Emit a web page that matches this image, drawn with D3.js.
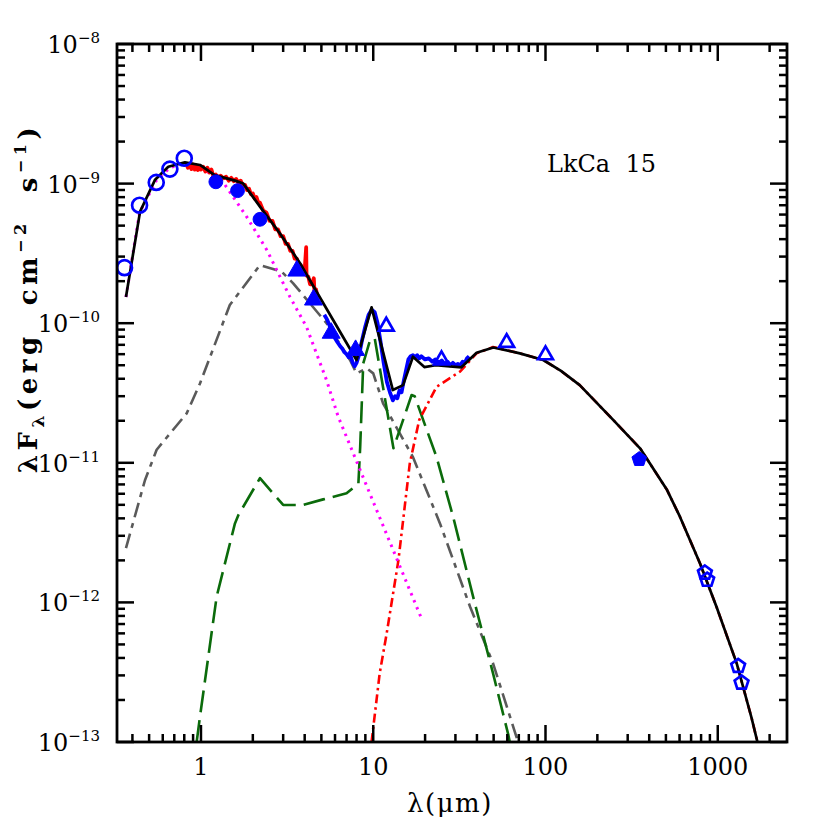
<!DOCTYPE html>
<html><head><meta charset="utf-8">
<script src="https://cdn.jsdelivr.net/npm/d3@7"></script>
<style>body{margin:0;background:#fff} svg{display:block} text{font-family:"DejaVu Serif",serif;fill:#000}</style>
</head><body><svg id="c" width="830" height="830"></svg>
<script>
// ---------- data (wavelength in micron, lambda*F_lambda in erg cm^-2 s^-1) ----------
const photOpen = [[0.36,2.5e-10],[0.44,7.0e-10],[0.55,1.02e-9],[0.66,1.27e-9],[0.80,1.52e-9]];
const photFilled = [[1.22,1.03e-9],[1.63,8.9e-10],[2.2,5.55e-10]];
const iracFilled = [[3.6,2.37e-10],[4.5,1.47e-10],[5.7,8.5e-11],[7.9,6.4e-11]];
const irasOpen = [[11.9,9.5e-11],[24.9,5.45e-11],[59.5,7.25e-11],[100,5.92e-11]];
const submmFilled = [[350,1.06e-11]];
const mmOpen = [[842,1.63e-12],[868,1.45e-12],[1313,3.5e-13],[1374,2.66e-13]];

const totalModel = [[0.367,1.54e-10],[0.443,6.3e-10],[0.54,1.06e-9],[0.646,1.32e-9],[0.807,1.42e-9],[0.987,1.36e-9],[1.2,1.15e-9],[1.575,1.05e-9],[1.76,1.0e-9],[2.2,6.84e-10],[2.87,4.4e-10],[3.76,2.69e-10],[4.69,1.68e-10],[8.0,5.45e-11],[9.78,1.3e-10],[13.0,3.32e-11],[14.9,3.6e-11],[17.0,5.75e-11],[19.8,4.85e-11],[23.0,5.0e-11],[32.5,4.83e-11],[39.8,6.15e-11],[49.8,6.7e-11],[71,6.08e-11],[97,5.45e-11],[123,4.55e-11],[158,3.6e-11],[247,2.03e-11],[354,1.27e-11],[508,6.38e-12],[603,4.11e-12],[789,1.9e-12],[983,9.3e-13],[1288,3.66e-13],[1573,1.48e-13],[1700,1.0e-13]];
const photosphere = [[0.367,1.54e-10],[0.44,6.2e-10],[0.55,1.05e-9],[0.66,1.3e-9],[0.8,1.4e-9],[1.0,1.3e-9],[1.2,1.13e-9],[1.38,9.77e-10],[1.84,5.8e-10],[2.41,3.35e-10],[3.28,1.55e-10],[4.1,9.4e-11],[5.36,3.9e-11],[6.26,2.14e-11],[10,5.25e-12],[19.2,7.5e-13]];
const innerWall = [[0.367,2.45e-12],[0.473,7.5e-12],[0.553,1.24e-11],[0.826,2.26e-11],[0.987,3.7e-11],[1.47,1.35e-10],[2.2,2.61e-10],[2.94,2.34e-10],[3.43,1.93e-10],[5.36,1.0e-10],[7.33,5.45e-11],[8.0,4.37e-11],[9.16,4.75e-11],[10.0,4.37e-11],[11.4,2.67e-11],[17.0,1.1e-11],[24.4,3.68e-12],[36.5,9.3e-13],[49.6,3.66e-13],[67.8,1.09e-13],[69.5,1.0e-13]];
const innerDisk = [[0.944,1.0e-13],[0.987,1.52e-13],[1.233,1.1e-12],[1.575,3.68e-12],[1.645,4.2e-12],[2.2,7.76e-12],[3.0,4.99e-12],[3.92,4.99e-12],[5.12,5.47e-12],[7.0,6.05e-12],[8.2,7.1e-12],[8.4,1.3e-11],[8.75,5.16e-11],[9.6,7.6e-11],[10.2,7.8e-11],[13.1,1.27e-11],[16.7,3.06e-11],[17.4,3.0e-11],[23.3,1.1e-11],[29.1,4.1e-12],[38,1.1e-12],[49.6,3.1e-13],[60.9,1.12e-13],[62,1.0e-13]];
const outerWall = [[9.78,1.0e-13],[10.9,3.1e-13],[11.97,6.0e-13],[14.0,2.0e-12],[16.3,9.9e-12],[18.5,2.03e-11],[23.3,3.5e-11],[31.9,4.5e-11],[39.8,6.08e-11],[49.6,6.75e-11],[71,6.08e-11],[97,5.45e-11],[123,4.55e-11],[158,3.6e-11],[247,2.03e-11],[354,1.27e-11],[508,6.38e-12],[603,4.11e-12],[789,1.9e-12],[983,9.3e-13],[1288,3.66e-13],[1573,1.48e-13],[1700,1.0e-13]];
const opticalSpec = [[0.82,1.40e-9],[0.84,1.30e-9],[0.86,1.38e-9],[0.88,1.27e-9],[0.90,1.37e-9],[0.92,1.26e-9],[0.94,1.35e-9],[0.96,1.25e-9],[0.98,1.34e-9],[1.00,1.26e-9],[1.03,1.32e-9],[1.06,1.22e-9],[1.09,1.30e-9],[1.12,1.20e-9],[1.15,1.26e-9],[1.18,1.13e-9],[1.22,1.16e-9],[1.26,1.10e-9],[1.30,1.14e-9],[1.35,1.09e-9],[1.40,1.12e-9],[1.45,1.05e-9],[1.50,1.10e-9],[1.55,1.04e-9],[1.60,1.08e-9],[1.65,1.01e-9],[1.70,1.05e-9],[1.75,0.97e-9],[1.80,0.98e-9],[1.85,0.90e-9],[1.90,0.92e-9],[1.95,0.84e-9],[2.00,0.85e-9],[2.05,0.78e-9],[2.10,0.80e-9],[2.15,0.73e-9],[2.20,0.73e-9],[2.30,0.64e-9],[2.40,0.62e-9],[2.50,0.54e-9],[2.60,0.54e-9],[2.70,0.47e-9],[2.80,0.47e-9],[2.90,0.42e-9],[3.00,0.42e-9],[3.10,0.37e-9],[3.20,0.37e-9],[3.30,0.33e-9],[3.40,0.33e-9],[3.50,0.29e-9],[3.60,0.29e-9],[3.70,0.26e-9],[3.80,0.26e-9],[3.90,0.23e-9],[4.00,0.24e-9],[4.08,0.35e-9],[4.10,0.22e-9],[4.20,0.215e-9],[4.30,0.19e-9],[4.40,0.19e-9],[4.52,0.21e-9],[4.56,0.165e-9],[4.65,0.175e-9],[4.75,0.155e-9],[4.85,0.155e-9]];
const irsSpec = [[5.2,1.15e-10],[5.4,1.06e-10],[5.6,0.95e-10],[5.8,0.88e-10],[6.0,0.78e-10],[6.2,0.73e-10],[6.4,0.69e-10],[6.6,0.66e-10],[6.8,0.62e-10],[7.0,0.60e-10],[7.2,0.57e-10],[7.4,0.58e-10],[7.6,0.52e-10],[7.8,0.49e-10],[8.0,0.52e-10],[8.3,0.60e-10],[8.6,0.75e-10],[9.0,0.95e-10],[9.4,1.15e-10],[9.8,1.25e-10],[10.2,1.2e-10],[10.6,1.0e-10],[11.0,0.75e-10],[11.5,0.52e-10],[12.0,0.38e-10],[12.5,0.32e-10],[13.0,0.28e-10],[13.4,0.30e-10],[13.8,0.29e-10],[14.2,0.33e-10],[14.6,0.32e-10],[15.0,0.38e-10],[15.5,0.46e-10],[16.0,0.55e-10],[16.5,0.58e-10],[17.0,0.59e-10],[17.5,0.57e-10],[18.0,0.59e-10],[18.5,0.56e-10],[19.0,0.58e-10],[20.0,0.55e-10],[21.0,0.56e-10],[22.0,0.53e-10],[23.0,0.55e-10],[24.0,0.52e-10],[25.0,0.54e-10],[26.0,0.51e-10],[27.0,0.53e-10],[28.0,0.50e-10],[29.0,0.52e-10],[30.0,0.50e-10],[31.0,0.51e-10],[32.0,0.50e-10],[33.0,0.53e-10],[34.0,0.52e-10],[35.0,0.56e-10],[36.0,0.58e-10]];

const xMajor = [1, 10, 100, 1000];
const xMajorLabels = ["1", "10", "100", "1000"];
const yMajor = [1e-13, 1e-12, 1e-11, 1e-10, 1e-9, 1e-8];
const yExponents = ["−13", "−12", "−11", "−10", "−9", "−8"];
const sourceName = "LkCa  15";

// ---------- layout ----------
const L = 117, R = 787, T = 44, B = 742;
const svg = d3.select("#c");
const x = d3.scaleLog().domain([0.3255, 2523]).range([L, R]);
const y = d3.scaleLog().domain([1e-13, 1e-8]).range([B, T]);

svg.append("defs").append("clipPath").attr("id", "clip")
  .append("rect").attr("x", L).attr("y", T).attr("width", R - L).attr("height", B - T);
const plot = svg.append("g").attr("clip-path", "url(#clip)");
const line = d3.line().x(d => x(d[0])).y(d => y(d[1]));

function curve(data, color, width, dash) {
  plot.append("path").datum(data).attr("d", line)
    .attr("fill", "none").attr("stroke", color).attr("stroke-width", width)
    .attr("stroke-dasharray", dash || null).attr("stroke-linejoin", "round");
}
curve(innerWall, "#5a5a5a", 2.6, "15,6,5,6");
curve(innerDisk, "#0b6b0b", 2.6, "22,8");
curve(outerWall, "#ff0000", 2.6, "9,4,2.5,4");
curve(photosphere, "#ff00ff", 3, "2.5,5");
curve(opticalSpec, "#ff0000", 3.8);
curve(irsSpec, "#0000ff", 3.8);
curve(totalModel, "#000000", 2.7);

// ---------- markers ----------
const pentagon = {draw(ctx, size) {
  const r = Math.sqrt(size / 2.378);
  for (let i = 0; i < 5; i++) {
    const a = -Math.PI / 2 + i * 2 * Math.PI / 5;
    i ? ctx.lineTo(r * Math.cos(a), r * Math.sin(a)) : ctx.moveTo(r * Math.cos(a), r * Math.sin(a));
  }
  ctx.closePath();
}};
function markers(data, type, size, filled) {
  plot.selectAll(null).data(data).enter().append("path")
    .attr("d", d3.symbol().type(type).size(size))
    .attr("transform", d => `translate(${x(d[0])},${y(d[1])})`)
    .attr("fill", filled ? "#0000ff" : "none")
    .attr("stroke", "#0000ff").attr("stroke-width", filled ? 1 : 2.7);
}
markers(photOpen, d3.symbolCircle, 175, false);
markers(photFilled, d3.symbolCircle, 150, true);
markers(iracFilled, d3.symbolTriangle, 140, true);
markers(irasOpen, d3.symbolTriangle, 95, false);
markers(submmFilled, pentagon, 140, true);
markers(mmOpen, pentagon, 125, false);

// ---------- frame and inward ticks on all four sides ----------
svg.append("rect").attr("x", L).attr("y", T).attr("width", R - L).attr("height", B - T)
  .attr("fill", "none").attr("stroke", "#000").attr("stroke-width", 2.8);

const minorX = [], minorY = [];
for (let e = -1; e <= 3; e++) for (let m = 2; m <= 9; m++) {
  const v = m * Math.pow(10, e); if (v > 0.3255 && v < 2523) minorX.push(v);
}
for (let e = -13; e <= -9; e++) for (let m = 2; m <= 9; m++) minorY.push(m * Math.pow(10, e));

function xTicks(vals, len) {
  [[B, -len], [T, len]].forEach(([base, dl]) => {
    svg.selectAll(null).data(vals).enter().append("line")
      .attr("x1", d => x(d)).attr("x2", d => x(d)).attr("y1", base).attr("y2", base + dl)
      .attr("stroke", "#000").attr("stroke-width", 2.5);
  });
}
function yTicks(vals, len) {
  [[L, len], [R, -len]].forEach(([base, dl]) => {
    svg.selectAll(null).data(vals).enter().append("line")
      .attr("y1", d => y(d)).attr("y2", d => y(d)).attr("x1", base).attr("x2", base + dl)
      .attr("stroke", "#000").attr("stroke-width", 2.5);
  });
}
xTicks(minorX, 8); xTicks(xMajor, 17);
yTicks(minorY, 8); yTicks(yMajor, 17);

// tick labels
xMajor.forEach((v, i) => {
  svg.append("text").attr("x", x(v)).attr("y", 775).attr("text-anchor", "middle")
    .attr("font-size", 24).text(xMajorLabels[i]);
});
yMajor.forEach((v, i) => {
  const t = svg.append("text").attr("x", 100).attr("y", y(v) + 9).attr("text-anchor", "end").attr("font-size", 24);
  t.append("tspan").text("10");
  t.append("tspan").attr("dy", -10).attr("font-size", 15).text(yExponents[i]);
});

// axis titles
svg.append("text").attr("x", 450).attr("y", 812).attr("text-anchor", "middle").attr("font-size", 26)
  .attr("letter-spacing", 1.5).text("λ(μm)");
const yt = svg.append("text").attr("transform", "translate(37,298) rotate(-90)")
  .attr("text-anchor", "middle").attr("font-size", 26).attr("font-weight", "bold")
  .attr("letter-spacing", 4.5).style("white-space", "pre");
yt.append("tspan").text("λF");
yt.append("tspan").attr("dy", 7).attr("font-size", 17).text("λ");
yt.append("tspan").attr("dy", -7).text("(erg  cm");
yt.append("tspan").attr("dy", -11).attr("font-size", 16).text("−2");
yt.append("tspan").attr("dy", 11).text("  s");
yt.append("tspan").attr("dy", -11).attr("font-size", 16).text("−1");
yt.append("tspan").attr("dy", 11).text(")");

svg.append("text").attr("x", 547).attr("y", 172).attr("font-size", 24)
  .style("white-space", "pre").text(sourceName);
</script></body></html>
